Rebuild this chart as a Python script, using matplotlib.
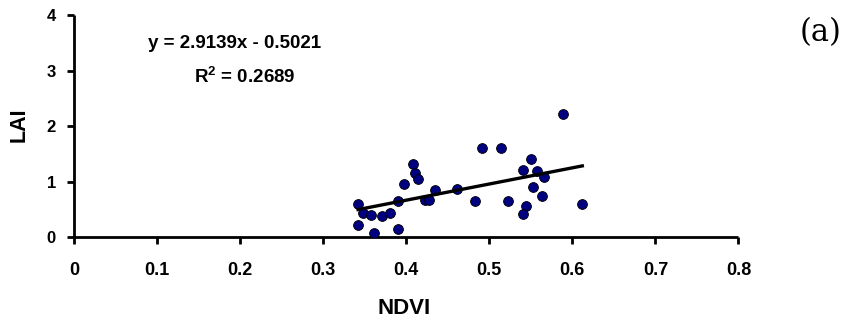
import numpy as np
import matplotlib.pyplot as plt

# NDVI / LAI field samples
ndvi = [0.342, 0.342, 0.348, 0.357, 0.361, 0.371, 0.380, 0.390, 0.390, 0.397,
        0.408, 0.411, 0.414, 0.422, 0.428, 0.435, 0.461, 0.483, 0.491, 0.514,
        0.523, 0.540, 0.544, 0.541, 0.550, 0.557, 0.553, 0.566, 0.564, 0.589,
        0.612]
lai = [0.59, 0.21, 0.43, 0.39, 0.07, 0.37, 0.44, 0.65, 0.14, 0.95,
       1.32, 1.16, 1.04, 0.67, 0.67, 0.84, 0.86, 0.65, 1.61, 1.61,
       0.65, 1.20, 0.55, 0.42, 1.40, 1.19, 0.90, 1.08, 0.74, 2.22,
       0.60]

slope = 2.9139
intercept = -0.5021
r2 = 0.2689

xticks = np.arange(0, 0.81, 0.1)
yticks = [0, 1, 2, 3, 4]

plt.rcParams['font.family'] = ['Liberation Sans', 'DejaVu Sans']
plt.rcParams['mathtext.fontset'] = 'custom'
plt.rcParams['mathtext.bf'] = 'Liberation Sans:bold'

fig = plt.figure(figsize=(8.48, 3.24), dpi=100)
ax = fig.add_axes([0.0873, 0.2685, 0.7835, 0.6852])

ax.scatter(ndvi, lai, s=50, color='#000080', edgecolor='black', linewidth=0.6, zorder=3)

# trend line over the sampled NDVI range
xl = np.array([min(ndvi), max(ndvi)])
ax.plot(xl, slope * xl + intercept, color='black', linewidth=2.4, zorder=4)

ax.set_xlim(0, 0.8)
ax.set_ylim(0, 4)
ax.set_xticks(xticks)
ax.set_xticklabels(['0' if v == 0 else f'{v:.1f}' for v in xticks])
ax.set_yticks(yticks)

for side in ['top', 'right']:
    ax.spines[side].set_visible(False)
for side in ['left', 'bottom']:
    ax.spines[side].set_linewidth(2)
    ax.spines[side].set_capstyle('butt')

ax.tick_params(axis='both', direction='out', length=5, width=2)
ax.tick_params(axis='x', pad=13, labelsize=13)
ax.tick_params(axis='y', pad=8, labelsize=12)
for lbl in ax.get_xticklabels() + ax.get_yticklabels():
    lbl.set_fontweight('bold')

ax.set_xlabel('NDVI', fontsize=16, fontweight='bold', va='center')
ax.xaxis.set_label_coords(0.497, -0.32)
ax.set_ylabel('LAI', fontsize=15.5, fontweight='bold', va='center')
ax.yaxis.set_label_coords(-0.082, 0.505)

fig.text(235 / 848, 1 - 48 / 324, f'y = {slope}x - {abs(intercept)}', ha='center', va='baseline',
         fontsize=13.5, fontweight='bold')
fig.text(245 / 848, 1 - 83 / 324, r'R$^{\mathbf{2}}$' + f' = {r2}', ha='center', va='baseline',
         fontsize=13.5, fontweight='bold')
fig.text(821 / 848, 1 - 33 / 324, '(a)', ha='center', va='center',
         fontsize=22, family=['DejaVu Serif'])

fig.savefig('out.png', dpi=100)
